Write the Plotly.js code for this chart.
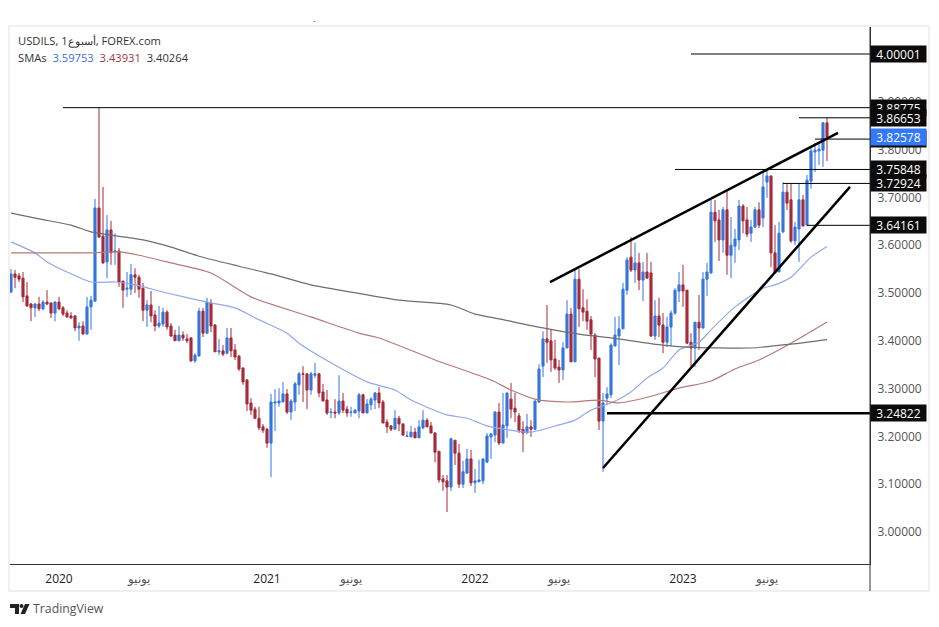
<!DOCTYPE html>
<html><head><meta charset="utf-8">
<script src="https://cdn.plot.ly/plotly-3.0.1.min.js"></script>
<style>html,body{margin:0;padding:0;background:#fff}#c{width:939px;height:627px}</style>
</head><body><div id="c"></div>
<script>
var open_ = [3.502,3.540,3.536,3.531,3.494,3.477,3.469,3.477,3.467,3.481,3.479,3.458,3.481,3.469,3.458,3.452,3.452,3.427,3.431,3.414,3.471,3.483,3.678,3.619,3.565,3.632,3.586,3.588,3.525,3.508,3.508,3.538,3.533,3.510,3.464,3.475,3.454,3.431,3.435,3.460,3.431,3.412,3.400,3.412,3.404,3.406,3.358,3.368,3.462,3.416,3.479,3.433,3.377,3.379,3.374,3.406,3.381,3.368,3.343,3.318,3.270,3.257,3.238,3.220,3.215,3.186,3.270,3.270,3.272,3.289,3.251,3.272,3.308,3.331,3.331,3.297,3.328,3.331,3.293,3.276,3.250,3.251,3.249,3.274,3.257,3.250,3.249,3.253,3.287,3.249,3.266,3.276,3.291,3.272,3.230,3.222,3.215,3.238,3.226,3.200,3.199,3.209,3.197,3.218,3.234,3.222,3.207,3.169,3.111,3.107,3.094,3.192,3.165,3.100,3.123,3.153,3.103,3.105,3.107,3.146,3.199,3.203,3.251,3.186,3.222,3.278,3.259,3.243,3.215,3.207,3.220,3.215,3.272,3.347,3.404,3.400,3.362,3.345,3.339,3.385,3.456,3.356,3.529,3.469,3.462,3.444,3.412,3.364,3.232,3.280,3.287,3.389,3.410,3.425,3.506,3.575,3.548,3.563,3.527,3.544,3.542,3.410,3.452,3.433,3.397,3.429,3.458,3.504,3.517,3.506,3.397,3.385,3.439,3.427,3.529,3.542,3.669,3.653,3.611,3.674,3.579,3.598,3.611,3.682,3.653,3.625,3.638,3.674,3.657,3.732,3.745,3.584,3.544,3.628,3.711,3.695,3.609,3.634,3.695,3.642,3.734,3.795,3.797,3.799,3.856];
var high_ = [3.550,3.548,3.542,3.544,3.523,3.479,3.479,3.492,3.485,3.506,3.481,3.483,3.492,3.473,3.464,3.460,3.454,3.439,3.441,3.492,3.494,3.697,3.88775,3.722,3.663,3.651,3.625,3.594,3.525,3.544,3.561,3.552,3.538,3.521,3.485,3.504,3.464,3.473,3.469,3.464,3.437,3.423,3.431,3.420,3.414,3.408,3.374,3.469,3.469,3.490,3.487,3.435,3.404,3.391,3.427,3.427,3.393,3.370,3.345,3.320,3.280,3.262,3.262,3.226,3.218,3.289,3.299,3.301,3.314,3.299,3.278,3.314,3.335,3.347,3.331,3.335,3.354,3.333,3.310,3.297,3.259,3.278,3.328,3.291,3.264,3.262,3.257,3.291,3.289,3.278,3.282,3.293,3.303,3.276,3.236,3.224,3.255,3.243,3.228,3.211,3.222,3.218,3.234,3.255,3.238,3.230,3.209,3.169,3.119,3.119,3.197,3.192,3.184,3.149,3.174,3.172,3.132,3.151,3.153,3.207,3.207,3.253,3.270,3.291,3.291,3.312,3.291,3.249,3.232,3.247,3.234,3.276,3.351,3.420,3.475,3.423,3.402,3.360,3.397,3.485,3.469,3.550,3.550,3.508,3.487,3.452,3.416,3.364,3.291,3.303,3.395,3.450,3.452,3.521,3.575,3.617,3.605,3.584,3.565,3.584,3.565,3.485,3.490,3.458,3.450,3.464,3.510,3.544,3.559,3.506,3.416,3.439,3.496,3.544,3.563,3.695,3.695,3.674,3.680,3.715,3.659,3.634,3.695,3.686,3.680,3.653,3.680,3.690,3.751,3.757,3.745,3.642,3.649,3.732,3.730,3.728,3.649,3.730,3.705,3.747,3.803,3.814,3.816,3.858,3.86653];
var low_ = [3.500,3.510,3.523,3.481,3.471,3.441,3.450,3.462,3.464,3.475,3.448,3.441,3.464,3.452,3.448,3.446,3.420,3.400,3.414,3.414,3.423,3.483,3.615,3.561,3.531,3.559,3.559,3.513,3.469,3.492,3.496,3.500,3.490,3.441,3.429,3.439,3.420,3.427,3.429,3.423,3.408,3.400,3.400,3.400,3.395,3.356,3.354,3.368,3.408,3.416,3.418,3.377,3.370,3.368,3.372,3.366,3.360,3.337,3.308,3.253,3.245,3.236,3.213,3.207,3.176,3.115,3.211,3.262,3.272,3.247,3.234,3.253,3.287,3.272,3.257,3.287,3.322,3.282,3.274,3.245,3.238,3.238,3.245,3.249,3.241,3.241,3.249,3.238,3.249,3.249,3.255,3.257,3.259,3.228,3.207,3.211,3.215,3.211,3.201,3.199,3.199,3.197,3.197,3.215,3.220,3.207,3.146,3.103,3.086,3.042,3.086,3.140,3.092,3.092,3.123,3.096,3.082,3.105,3.100,3.146,3.153,3.188,3.182,3.186,3.197,3.238,3.230,3.207,3.167,3.207,3.199,3.213,3.270,3.324,3.354,3.335,3.339,3.312,3.318,3.385,3.356,3.356,3.429,3.441,3.423,3.381,3.324,3.213,3.126,3.266,3.280,3.389,3.349,3.425,3.496,3.544,3.521,3.506,3.483,3.531,3.408,3.402,3.408,3.374,3.387,3.389,3.454,3.481,3.471,3.393,3.347,3.345,3.381,3.425,3.494,3.540,3.607,3.567,3.584,3.538,3.531,3.563,3.590,3.625,3.617,3.607,3.636,3.636,3.638,3.699,3.554,3.542,3.544,3.625,3.674,3.605,3.600,3.565,3.640,3.642,3.718,3.753,3.768,3.764,3.776];
var close_ = [3.540,3.533,3.529,3.492,3.473,3.469,3.477,3.467,3.481,3.477,3.458,3.481,3.467,3.456,3.450,3.448,3.427,3.431,3.414,3.471,3.485,3.678,3.617,3.563,3.632,3.584,3.588,3.523,3.506,3.510,3.538,3.533,3.508,3.464,3.475,3.452,3.431,3.437,3.460,3.429,3.410,3.400,3.412,3.406,3.400,3.358,3.370,3.462,3.416,3.481,3.431,3.377,3.379,3.372,3.406,3.379,3.366,3.341,3.314,3.268,3.255,3.238,3.218,3.213,3.186,3.272,3.272,3.274,3.289,3.251,3.274,3.310,3.331,3.330,3.297,3.331,3.331,3.291,3.274,3.249,3.251,3.249,3.274,3.255,3.249,3.251,3.255,3.287,3.249,3.268,3.278,3.291,3.270,3.228,3.220,3.215,3.238,3.226,3.203,3.201,3.209,3.197,3.220,3.234,3.220,3.207,3.167,3.109,3.105,3.094,3.195,3.165,3.100,3.126,3.153,3.103,3.107,3.109,3.153,3.201,3.205,3.251,3.186,3.224,3.291,3.257,3.251,3.213,3.207,3.220,3.215,3.274,3.341,3.404,3.397,3.360,3.343,3.339,3.385,3.456,3.356,3.529,3.467,3.460,3.441,3.414,3.362,3.232,3.270,3.289,3.391,3.412,3.425,3.508,3.569,3.548,3.563,3.527,3.544,3.531,3.410,3.452,3.433,3.397,3.429,3.458,3.506,3.517,3.504,3.395,3.385,3.439,3.427,3.529,3.544,3.669,3.651,3.611,3.674,3.579,3.600,3.613,3.682,3.651,3.623,3.638,3.674,3.642,3.722,3.745,3.584,3.542,3.625,3.711,3.688,3.609,3.638,3.695,3.640,3.736,3.797,3.799,3.801,3.856,3.82578];

var sma50Weeks = [0,6,9,14,20,26,31,39,49,56,62,69,72,80,89,96,100,109,114,119,125,130,137,141,145,150,155,159,163,167,172,175,181,188,191,195,200,204];
var sma50Values = [3.607,3.584,3.565,3.544,3.523,3.523,3.517,3.500,3.481,3.469,3.444,3.416,3.395,3.354,3.314,3.297,3.276,3.245,3.238,3.222,3.213,3.209,3.224,3.234,3.255,3.270,3.293,3.322,3.343,3.381,3.397,3.423,3.471,3.510,3.517,3.533,3.575,3.59753];
var sma100Weeks = [0,12,20,27,32,40,50,60,75,87,92,106,120,125,131,139,147,152,160,167,175,181,187,195,204];
var sma100Values = [3.584,3.584,3.584,3.586,3.579,3.563,3.542,3.492,3.450,3.416,3.406,3.360,3.318,3.297,3.278,3.272,3.276,3.270,3.284,3.301,3.316,3.341,3.360,3.395,3.43931];
var sma200Weeks = [0,7,15,20,25,33,40,47,57,65,75,85,97,110,116,122,133,142,150,163,169,185,195,204];
var sma200Values = [3.667,3.655,3.642,3.628,3.621,3.611,3.596,3.577,3.556,3.540,3.517,3.502,3.485,3.475,3.456,3.446,3.427,3.414,3.406,3.391,3.387,3.385,3.393,3.40264];

var upperTrendWeeks = [134.75,206.75];
var upperTrendPrices = [3.523,3.835];
var lowerTrendWeeks = [148,209.75];
var lowerTrendPrices = [3.134,3.722];

var levelPrices = [3.88775,4.00001,3.86653,3.822,3.75848,3.72924,3.64161,3.24822];
var levelLabels = ["3.88775","4.00001","3.86653","3.82200","3.75848","3.72924","3.64161","3.24822"];
var levelStartWeeks = [13,170,197,201,166,193,199,149];
var levelWidths = [1,1,1,1,1,1,1,2.5];
var lastPrice = 3.82578;
var lastPriceLabel = "3.82578";

var priceTicks = [3.0,3.1,3.2,3.3,3.4,3.5,3.6,3.7,3.8,3.9];
var timeTickWeeks = [12,32,64,85,116,137,168,189];
var timeTickLabels = ["2020","<span style=\"color:#555\">يونيو</span>","2021","<span style=\"color:#555\">يونيو</span>","2022","<span style=\"color:#555\">يونيو</span>","2023","<span style=\"color:#555\">يونيو</span>"];

var FONT = '"Open Sans", "Noto Sans", sans-serif';
var BLUE = '#3577dd', RED = '#a62a38';
var xEnd = 214.75;
var weeks = open_.map(function(_, i){ return i; });
var data = [{
  type:'candlestick', x:weeks, open:open_, high:high_, low:low_, close:close_,
  increasing:{line:{color:BLUE,width:1},fillcolor:BLUE},
  decreasing:{line:{color:RED,width:1},fillcolor:RED},
  whiskerwidth:0, hoverinfo:'skip', showlegend:false
},
{type:'scatter',mode:'lines',x:sma50Weeks,y:sma50Values,line:{color:'#8fa8ee',width:1.2,shape:'spline',smoothing:0.7},hoverinfo:'skip',showlegend:false},
{type:'scatter',mode:'lines',x:sma100Weeks,y:sma100Values,line:{color:'#b57a78',width:1.2,shape:'spline',smoothing:0.7},hoverinfo:'skip',showlegend:false},
{type:'scatter',mode:'lines',x:sma200Weeks,y:sma200Values,line:{color:'#6e6e6e',width:1.2,shape:'spline',smoothing:0.7},hoverinfo:'skip',showlegend:false},
{type:'scatter',mode:'lines',x:upperTrendWeeks,y:upperTrendPrices,line:{color:'#000',width:2.5},hoverinfo:'skip',showlegend:false},
{type:'scatter',mode:'lines',x:lowerTrendWeeks,y:lowerTrendPrices,line:{color:'#000',width:2.5},hoverinfo:'skip',showlegend:false}];
levelPrices.forEach(function(p,i){
  data.push({type:'scatter',mode:'lines',x:[levelStartWeeks[i],xEnd],y:[p,p],line:{color:'#000',width:levelWidths[i]},hoverinfo:'skip',showlegend:false});
});

var annotations = [];
levelPrices.forEach(function(p,i){
  annotations.push({xref:'paper',yref:'y',x:1,y:p,xanchor:'left',yanchor:'middle',
    text:levelLabels[i],showarrow:false,width:52,height:13,align:'center',bgcolor:'#0b0b0b',borderpad:1.5,
    font:{family:FONT,size:12,color:'#fff',weight:500}});
});
annotations.push({xref:'paper',yref:'y',x:1,y:lastPrice,xanchor:'left',yanchor:'middle',
  text:lastPriceLabel,showarrow:false,width:52,height:13,align:'center',bgcolor:'#3179f5',borderpad:1.5,
  font:{family:FONT,size:12,color:'#fff',weight:500}});
annotations.push({xref:'paper',yref:'paper',x:0.0072,y:0.9745,xanchor:'left',yanchor:'middle',showarrow:false,
  text:'USDILS, 1أسبوع, FOREX.com',font:{family:FONT,size:11.2,color:'#333'}});
annotations.push({xref:'paper',yref:'paper',x:0.0072,y:0.9435,xanchor:'left',yanchor:'middle',showarrow:false,
  text:'SMAs  <span style="color:#3c6fd6">3.59753</span>  <span style="color:#a3353f">3.43931</span>  <span style="color:#333">3.40264</span>',
  font:{family:FONT,size:11.2,color:'#333'}});
annotations.push({xref:'paper',yref:'paper',x:0.0244,y:-0.0835,xanchor:'left',yanchor:'middle',showarrow:false,
  text:'TradingView',font:{family:FONT,size:12.3,color:'#555'}});
annotations.push({xref:'paper',yref:'paper',x:0.354,y:1.0135,xanchor:'center',yanchor:'middle',showarrow:false,
  text:'-',font:{family:FONT,size:8,color:'#333'}});

var shapes = [
  {type:'rect',layer:'below',xref:'paper',yref:'paper',x0:-0.0012,x1:1.0686,y0:-0.0503,y1:1.0019,line:{color:'#ececec',width:1.5},fillcolor:'#fff'},
  {type:'line',layer:'above',xref:'paper',yref:'paper',x0:1,x1:1,y0:-0.0503,y1:1,line:{color:'#333',width:1}},
  {type:'path',layer:'above',xref:'paper',yref:'paper',xsizemode:'pixel',ysizemode:'pixel',xanchor:0,yanchor:0,
   path:'M0,-40 L9,-40 L9,-50 L5,-50 L5,-44 L0,-44 Z',fillcolor:'#222',line:{width:0}},
  {type:'path',layer:'above',xref:'paper',yref:'paper',xsizemode:'pixel',ysizemode:'pixel',xanchor:0,yanchor:0,
   path:'M15,-40 L19.5,-40 L15,-50 L10.5,-50 Z',fillcolor:'#222',line:{width:0}},
  {type:'circle',layer:'above',xref:'paper',yref:'paper',xsizemode:'pixel',ysizemode:'pixel',xanchor:0,yanchor:0,
   x0:9.5,x1:13.5,y0:-40,y1:-44,fillcolor:'#222',line:{width:0}}
];

var layout = {
  width:939,height:627,margin:{l:10,r:69,t:27,b:63},
  paper_bgcolor:'#fff',plot_bgcolor:'rgba(0,0,0,0)',showlegend:false,boxgap:0.25,
  font:{family:FONT},
  xaxis:{range:[-0.25,xEnd],rangeslider:{visible:false},showgrid:false,zeroline:false,fixedrange:true,
    tickmode:'array',tickvals:timeTickWeeks,ticktext:timeTickLabels,ticks:'',ticklabelstandoff:4,
    tickfont:{family:FONT,size:12,color:'#222'},showline:true,linecolor:'#333',linewidth:1},
  yaxis:{range:[2.9331,4.0565],side:'right',showgrid:false,zeroline:false,fixedrange:true,
    tickmode:'array',tickvals:priceTicks,tickformat:'.5f',ticks:'',ticklabelstandoff:4,
    tickfont:{family:FONT,size:12,color:'#555'},showline:true,linecolor:'#333',linewidth:1},
  annotations:annotations,shapes:shapes
};
Plotly.newPlot('c',data,layout,{displayModeBar:false,staticPlot:true});
</script></body></html>
